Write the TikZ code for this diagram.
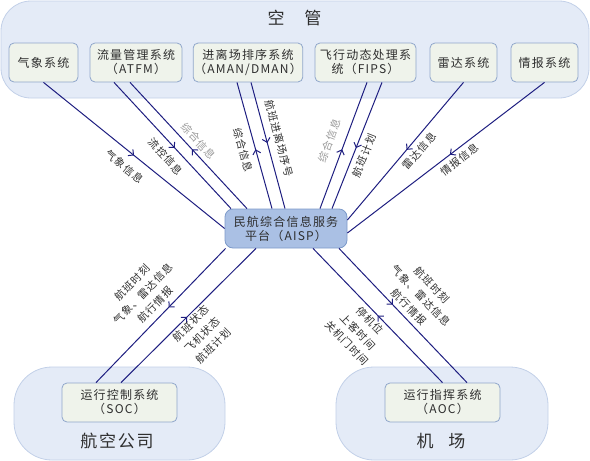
\documentclass[tikz,border=0pt]{standalone}
\usepackage{fontspec}
\setmainfont[LetterSpace=10]{Noto Sans CJK SC}
\usetikzlibrary{arrows.meta,decorations.markings}
\definecolor{zonefill}{HTML}{E4EBF7}
\definecolor{zoneline}{HTML}{C2D0E8}
\definecolor{sysfill}{HTML}{EFF3EB}
\definecolor{sysline}{HTML}{8FA6CB}
\definecolor{hubfill}{HTML}{AAC0E4}
\definecolor{hubline}{HTML}{7D9ACA}
\definecolor{flownavy}{HTML}{1E1E80}
\definecolor{graytext}{HTML}{2E2E2E}
\definecolor{fadetext}{HTML}{9A9A9A}

\begin{document}
\begin{tikzpicture}[x=1pt,y=-1pt,
  zone/.style={draw=zoneline,fill=zonefill,line width=0.8pt},
  sys/.style={draw=sysline,fill=sysfill,rounded corners=5pt,line width=0.8pt,minimum height=39pt,inner sep=1pt,align=center,text=graytext,font=\fontsize{12}{14}\selectfont},
  hub/.style={draw=hubline,fill=hubfill,rounded corners=8pt,line width=0.8pt,minimum width=122pt,minimum height=39pt,inner sep=1pt,align=center,text=graytext,font=\fontsize{12}{14}\selectfont},
  zonetitle/.style={text=graytext,font=\fontsize{17}{20}\selectfont},
  flow/.style={draw=flownavy,line width=1pt,postaction={decorate},decoration={markings,mark=at position #1 with {\arrow{Straight Barb[length=4pt,width=8pt]}}}},
  lbl/.style={sloped,text=graytext,align=center,inner sep=1pt,font=\fontsize{10.5}{16}\selectfont}]
\useasboundingbox (0,0) rectangle (590,461);
\draw[zone,rounded corners=30pt] (1,1) rectangle (589,98);
\draw[zone,rounded corners=38pt] (14,367) rectangle (225,460);
\draw[zone,rounded corners=38pt] (336,367) rectangle (548,460);
\node[zonetitle] (atctitle) at (294.5,18) {空\hspace{20pt}管};
\node[zonetitle] (airlinetitle) at (117,441) {航空公司};
\node[zonetitle] (airporttitle) at (441,441) {机\hspace{15pt}场};
\node[sys,minimum width=69pt] (wx) at (43.5,62.5) {气象系统};
\node[sys,minimum width=92pt] (atfm) at (136,62.5) {流量管理系统\\（ATFM）};
\node[sys,minimum width=106pt] (aman) at (248,62.5) {进离场排序系统\\（AMAN/DMAN）};
\node[sys,minimum width=101pt] (fips) at (365.5,62.5) {飞行动态处理系\\统（FIPS）};
\node[sys,minimum width=67pt] (radar) at (463.5,62.5) {雷达系统};
\node[sys,minimum width=67pt] (info) at (544.5,62.5) {情报系统};
\node[hub] (hub) at (286,228.5) {民航综合信息服务\\平台（AISP）};
\node[sys,minimum width=115pt] (soc) at (119.5,402.5) {运行控制系统\\（SOC）};
\node[sys,minimum width=115pt] (aoc) at (442.5,402.5) {运行指挥系统\\（AOC）};
\draw[flow=0.5] (wx.south) -- (hub.west) node[lbl,below=8pt,pos=0.5] {气象信息};
\draw[flow=0.52] ([xshift=-22pt]atfm.south) -- ([xshift=-55pt]hub.north) node[lbl,below=6pt,pos=0.52] {流控信息};
\draw[flow=0.47] ([xshift=-39pt]hub.north) -- ([xshift=-6pt]atfm.south) node[lbl,above=4pt,pos=0.48,text=fadetext] {综合信息};
\draw[flow=0.47] ([xshift=-14pt]hub.north) -- ([xshift=-11pt]aman.south) node[lbl,below=6pt,pos=0.49] {综合信息};
\draw[flow=0.48] ([xshift=3pt]aman.south) -- ([xshift=-1pt]hub.north) node[lbl,above=6pt,pos=0.47] {航班进离场序号};
\draw[flow=0.47] ([xshift=34pt]hub.north) -- ([xshift=1.5pt]fips.south) node[lbl,above=8pt,pos=0.5,text=fadetext] {综合信息};
\draw[flow=0.52] ([xshift=16.5pt]fips.south) -- ([xshift=46pt]hub.north) node[lbl,below=4pt,pos=0.55] {航班计划};
\draw[flow=0.49] (radar.south) -- ([yshift=8.5pt]hub.east) node[lbl,below=4pt,pos=0.45] {雷达信息};
\draw[flow=0.48] (info.south) -- ([yshift=-4.5pt]hub.east) node[lbl,below=3pt,pos=0.46] {情报信息};
\draw[flow=0.44] ([xshift=1pt]hub.south west) -- ([xshift=-23.5pt]soc.north) node[lbl,above=5pt,pos=0.48] {航班时刻\\气象、雷达信息\\航行情报};
\draw[flow=0.49] ([xshift=1.5pt]soc.north) -- ([xshift=-30pt]hub.south) node[lbl,below=1pt,pos=0.48] {航班状态\\飞机状态\\航班计划};
\draw[flow=0.5] (aoc.north) -- ([xshift=27pt]hub.south) node[lbl,below=3pt,pos=0.51] {停机位\\上客时间\\关机门时间};
\draw[flow=0.42] ([xshift=53pt]hub.south) -- ([xshift=24.5pt]aoc.north) node[lbl,above=4pt,pos=0.49] {航班时刻\\气象、雷达信息\\航行情报};
\end{tikzpicture}
\end{document}
